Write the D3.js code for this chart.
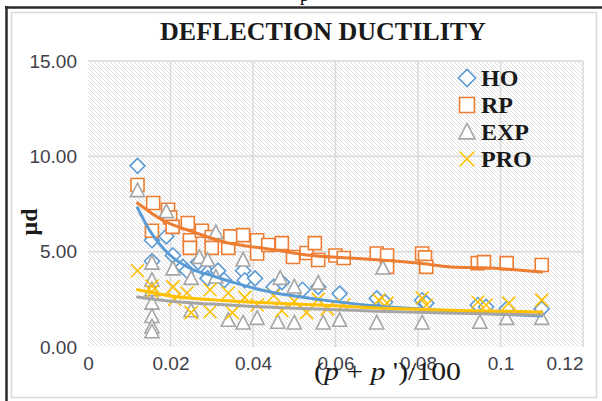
<!DOCTYPE html>
<html>
<head>
<meta charset="utf-8">
<script src="https://cdn.jsdelivr.net/npm/d3@7"></script>
<style>
  body { margin: 0; background: #fff; }
</style>
</head>
<body>
<div id="chart"></div>
<script>
// series
var hoX  = [0.012, 0.0155, 0.0155, 0.019, 0.0206, 0.023, 0.024, 0.0267, 0.029, 0.029, 0.0315, 0.033, 0.0376, 0.038, 0.0405, 0.045, 0.047, 0.052, 0.0558, 0.061, 0.070, 0.072, 0.081, 0.082, 0.0945, 0.0965, 0.1015, 0.110];
var hoY  = [9.5, 5.6, 4.5, 5.8, 4.8, 4.2, 4.0, 4.45, 3.9, 3.6, 4.0, 3.5, 4.0, 3.5, 3.6, 3.15, 3.4, 3.0, 3.15, 2.8, 2.55, 2.35, 2.45, 2.3, 2.2, 2.1, 2.0, 2.0];

var rpX  = [0.012, 0.0158, 0.0155, 0.0194, 0.0199, 0.0205, 0.0242, 0.0247, 0.0247, 0.0276, 0.030, 0.030, 0.034, 0.0345, 0.0376, 0.041, 0.041, 0.0437, 0.047, 0.0497, 0.053, 0.055, 0.0558, 0.060, 0.062, 0.070, 0.0725, 0.0725, 0.081, 0.0817, 0.082, 0.0945, 0.096, 0.1015, 0.110];
var rpY  = [8.5, 7.55, 6.1, 7.2, 6.8, 6.3, 6.5, 5.6, 5.2, 6.1, 5.77, 5.2, 5.2, 5.8, 5.87, 5.6, 4.9, 5.35, 5.45, 4.72, 4.93, 5.45, 4.56, 4.8, 4.67, 4.9, 4.8, 4.2, 4.9, 4.7, 4.2, 4.4, 4.45, 4.4, 4.3];

var expX = [0.012, 0.0155, 0.0155, 0.0155, 0.0155, 0.0155, 0.0155, 0.0155, 0.019, 0.0206, 0.025, 0.025, 0.027, 0.029, 0.031, 0.031, 0.034, 0.0376, 0.0376, 0.041, 0.0466, 0.046, 0.050, 0.050, 0.0558, 0.057, 0.061, 0.070, 0.0715, 0.081, 0.095, 0.1015, 0.110];
var expY = [8.2, 4.4, 3.5, 3.0, 2.3, 1.6, 1.05, 0.8, 7.1, 4.1, 3.6, 1.9, 4.7, 4.56, 6.0, 3.67, 1.4, 4.56, 1.26, 1.5, 3.6, 1.3, 3.15, 1.26, 3.35, 1.26, 1.4, 1.26, 4.14, 1.26, 1.3, 1.5, 1.5];

var proX = [0.012, 0.0155, 0.0155, 0.0206, 0.021, 0.024, 0.025, 0.0296, 0.0296, 0.034, 0.035, 0.038, 0.041, 0.045, 0.047, 0.050, 0.053, 0.0558, 0.058, 0.062, 0.0705, 0.0725, 0.081, 0.082, 0.0945, 0.0965, 0.102, 0.110];
var proY = [4.0, 3.2, 2.9, 3.15, 2.5, 2.83, 1.8, 3.0, 1.85, 2.83, 1.8, 2.6, 2.2, 2.7, 1.9, 2.4, 1.8, 2.5, 2.0, 2.2, 2.46, 2.3, 2.57, 2.2, 2.36, 2.2, 2.3, 2.46];

// trend lines, read at a few x positions
var hoTrendX  = [0.012, 0.015, 0.02, 0.025, 0.03, 0.035, 0.04, 0.045, 0.05, 0.055, 0.06, 0.07, 0.08, 0.09, 0.1, 0.11];
var hoTrendY  = [7.3, 6.1, 4.8, 4.1, 3.75, 3.4, 3.1, 2.85, 2.68, 2.52, 2.38, 2.15, 2.0, 1.85, 1.72, 1.62];
var rpTrendX  = [0.012, 0.018, 0.026, 0.034, 0.04, 0.045, 0.053, 0.0635, 0.071, 0.08, 0.088, 0.0975, 0.11];
var rpTrendY  = [7.55, 6.66, 6.0, 5.45, 5.25, 5.1, 4.83, 4.67, 4.56, 4.4, 4.2, 4.14, 3.93];
var expTrendX = [0.012, 0.02, 0.03, 0.04, 0.05, 0.06, 0.07, 0.08, 0.09, 0.1, 0.11];
var expTrendY = [2.62, 2.4, 2.25, 2.12, 2.03, 1.96, 1.88, 1.82, 1.77, 1.72, 1.68];
var proTrendX = [0.012, 0.02, 0.03, 0.04, 0.05, 0.06, 0.07, 0.08, 0.09, 0.1, 0.11];
var proTrendY = [3.0, 2.68, 2.48, 2.35, 2.25, 2.16, 2.05, 1.98, 1.92, 1.88, 1.84];

var seriesNames = ["HO", "RP", "EXP", "PRO"];
var xTicks = [0, 0.02, 0.04, 0.06, 0.08, 0.1, 0.12];
var xTickLabels = ["0", "0.02", "0.04", "0.06", "0.08", "0.1", "0.12"];
var yTicks = [0, 5, 10, 15];
var yTickLabels = ["0.00", "5.00", "10.00", "15.00"];

function main() {
    const canvasWidth = 602;
    const canvasHeight = 401;
    const left = 88, right = 583, top = 61, bottom = 347;

    var colors = ["#5b9bd5", "#ed7d31", "#a5a5a5", "#ffc000"];
    var shapes = [
        function (s) { return "M0," + (-7.5 * s) + "L" + (7.5 * s) + ",0L0," + (7.5 * s) + "L" + (-7.5 * s) + ",0Z"; },
        function (s) { return "M" + (-6.5 * s) + "," + (-6.5 * s) + "h" + (13 * s) + "v" + (13 * s) + "h" + (-13 * s) + "Z"; },
        function (s) { return "M0," + (-7.5 * s) + "L" + (7 * s) + "," + (6 * s) + "L" + (-7 * s) + "," + (6 * s) + "Z"; },
        function (s) { return "M" + (-6.5 * s) + "," + (-6.5 * s) + "L" + (6.5 * s) + "," + (6.5 * s) + "M" + (-6.5 * s) + "," + (6.5 * s) + "L" + (6.5 * s) + "," + (-6.5 * s); }
    ];

    var x = d3.scaleLinear().domain([0, 0.12]).range([left, right]);
    var y = d3.scaleLinear().domain([0, 15]).range([bottom, top]);

    var svg = d3.select("#chart").append("svg")
        .attr("width", canvasWidth)
        .attr("height", canvasHeight)
        .style("display", "block");

    var defs = svg.append("defs");
    var pat = defs.append("pattern")
        .attr("id", "hatch")
        .attr("patternUnits", "userSpaceOnUse")
        .attr("width", 4)
        .attr("height", 4);
    pat.append("rect").attr("width", 4).attr("height", 4).attr("fill", "#fff");
    pat.append("path")
        .attr("d", "M0,0L4,4M-1,3L1,5M3,-1L5,1")
        .attr("stroke", "#dadada")
        .attr("stroke-width", 0.9);

    // bits of the page around the chart
    svg.append("text")
        .text("p")
        .attr("x", 300).attr("y", 1)
        .style("font-family", "'Liberation Serif', serif")
        .attr("font-size", "18px");
    svg.append("rect")
        .attr("x", 11.5).attr("y", 12.5)
        .attr("width", 585).attr("height", 385)
        .attr("fill", "#fff")
        .attr("stroke", "#dadada")
        .attr("stroke-width", 1.5);
    svg.append("line")
        .attr("x1", 5).attr("x2", 602).attr("y1", 7.5).attr("y2", 7.5)
        .attr("stroke", "#2b2b2b").attr("stroke-width", 2.5);
    svg.append("line")
        .attr("x1", 6.5).attr("x2", 6.5).attr("y1", 6).attr("y2", 401)
        .attr("stroke", "#2b2b2b").attr("stroke-width", 2.5);

    // plot area
    svg.append("rect")
        .attr("x", left).attr("y", top)
        .attr("width", right - left).attr("height", bottom - top)
        .attr("fill", "url(#hatch)");

    svg.selectAll("line.gy")
        .data(yTicks.filter(function (d) { return d > 0; }))
        .enter().append("line")
        .attr("class", "gy")
        .attr("x1", left).attr("x2", right)
        .attr("y1", function (d) { return y(d); })
        .attr("y2", function (d) { return y(d); })
        .attr("stroke", "#d9d9d9").attr("stroke-width", 1.5);
    svg.selectAll("line.gx")
        .data(xTicks.filter(function (d) { return d > 0; }))
        .enter().append("line")
        .attr("class", "gx")
        .attr("y1", top).attr("y2", bottom)
        .attr("x1", function (d) { return x(d); })
        .attr("x2", function (d) { return x(d); })
        .attr("stroke", "#d9d9d9").attr("stroke-width", 1.5);

    // axes (labels only)
    var yAxis = svg.append("g")
        .attr("transform", "translate(" + left + ",0)")
        .call(d3.axisLeft(y).tickValues(yTicks).tickSize(0).tickPadding(11)
            .tickFormat(function (d, i) { return yTickLabels[i]; }));
    var xAxis = svg.append("g")
        .attr("transform", "translate(0," + bottom + ")")
        .call(d3.axisBottom(x).tickValues(xTicks).tickSize(0).tickPadding(10)
            .tickFormat(function (d, i) { return xTickLabels[i]; }));
    [yAxis, xAxis].forEach(function (g) {
        g.select(".domain").remove();
        g.selectAll("text")
            .style("font-family", "'Liberation Sans', Arial, sans-serif")
            .attr("font-size", "19px")
            .attr("fill", "#404048");
    });
    // last x label is pulled inside the chart like Excel does
    xAxis.selectAll(".tick").filter(function (d) { return d === 0.12; })
        .select("text").attr("text-anchor", "end");

    // markers
    var all = [[hoX, hoY], [rpX, rpY], [expX, expY], [proX, proY]];
    all.forEach(function (s, k) {
        var pts = s[0].map(function (v, i) { return [v, s[1][i]]; });
        svg.append("g").selectAll("path")
            .data(pts)
            .enter()
            .append("path")
            .attr("transform", function (d) { return "translate(" + x(d[0]) + "," + y(d[1]) + ")"; })
            .attr("d", shapes[k](1))
            .attr("fill", k === 3 ? "none" : "#fff")
            .attr("stroke", colors[k])
            .attr("stroke-width", 1.6);
    });

    // trend lines
    var trends = [[hoTrendX, hoTrendY], [rpTrendX, rpTrendY], [expTrendX, expTrendY], [proTrendX, proTrendY]];
    var line = d3.line()
        .x(function (d) { return x(d[0]); })
        .y(function (d) { return y(d[1]); })
        .curve(d3.curveMonotoneX);
    trends.forEach(function (t, k) {
        var pts = t[0].map(function (v, i) { return [v, t[1][i]]; });
        svg.append("path")
            .attr("d", line(pts))
            .attr("fill", "none")
            .attr("stroke", colors[k])
            .attr("stroke-width", 3)
            .attr("stroke-linecap", "round");
    });

    // title
    svg.append("text")
        .text("DEFLECTION DUCTILITY")
        .attr("x", 323).attr("y", 40)
        .attr("text-anchor", "middle")
        .style("font-family", "'Liberation Serif', 'Times New Roman', serif")
        .style("font-weight", "bold")
        .attr("font-size", "26px")
        .attr("fill", "#1a1a1a");

    // y title
    svg.append("text")
        .text("\u03bcd")
        .attr("transform", "translate(37,222) rotate(-90)")
        .attr("text-anchor", "middle")
        .style("font-family", "'Liberation Serif', 'Times New Roman', serif")
        .style("font-weight", "bold")
        .attr("font-size", "24px")
        .attr("fill", "#1a1a1a");

    // x title
    var xt = svg.append("text")
        .attr("x", 314).attr("y", 380)
        .attr("textLength", 147)
        .attr("lengthAdjust", "spacingAndGlyphs")
        .style("font-family", "'Liberation Serif', 'Times New Roman', serif")
        .attr("font-size", "26px")
        .attr("fill", "#1a1a1a");
    xt.append("tspan").text("(");
    xt.append("tspan").text("p").style("font-style", "italic");
    xt.append("tspan").text(" + ");
    xt.append("tspan").text("p").style("font-style", "italic");
    xt.append("tspan").text(" ')/100");

    // legend
    var legend = svg.append("g").selectAll("g")
        .data(seriesNames)
        .enter().append("g")
        .attr("transform", function (d, i) { return "translate(467," + (78 + i * 27) + ")"; });
    legend.append("path")
        .attr("d", function (d, i) { return shapes[i](1.15); })
        .attr("fill", function (d, i) { return i === 3 ? "none" : "#fff"; })
        .attr("stroke", function (d, i) { return colors[i]; })
        .attr("stroke-width", 1.6);
    legend.append("text")
        .text(function (d) { return d; })
        .attr("x", 14).attr("y", 8)
        .style("font-family", "'Liberation Serif', 'Times New Roman', serif")
        .style("font-weight", "bold")
        .attr("font-size", "24px")
        .attr("fill", "#1a1a1a");
}
main();
</script>
</body>
</html>
